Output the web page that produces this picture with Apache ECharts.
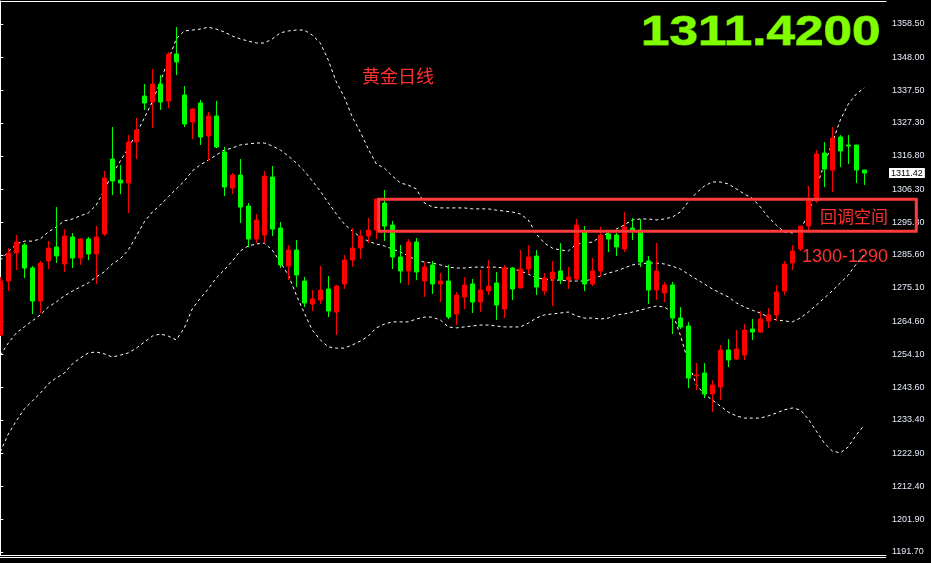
<!DOCTYPE html>
<html><head><meta charset="utf-8">
<script src="https://cdn.jsdelivr.net/npm/echarts@6/dist/echarts.min.js"></script>
<style>html,body{margin:0;padding:0;background:#000;overflow:hidden}#c{width:931px;height:563px}</style>
</head><body><div id="c"></div>
<script>
// OHLC (daily gold candles, oldest first)
const opens=[1260.25,1277.31,1286.15,1288.68,1281.41,1270.99,1283.63,1288.05,1282.68,1291.21,1284.57,1290.57,1285.84,1292.15,1315.85,1309.21,1308.27,1321.22,1335.75,1333.86,1339.54,1334.17,1349.02,1336.07,1327.54,1333.54,1323.11,1329.43,1318.06,1306.69,1310.79,1301.00,1290.57,1291.84,1310.16,1294.05,1282.05,1287.10,1277.31,1270.04,1271.30,1274.78,1267.51,1276.36,1283.94,1287.73,1291.52,1293.42,1301.95,1295.00,1284.89,1280.47,1289.63,1277.31,1282.36,1276.36,1277.31,1266.88,1272.25,1276.36,1270.67,1274.15,1276.68,1268.46,1281.41,1275.10,1281.10,1285.20,1274.15,1277.94,1280.47,1277.62,1277.94,1292.79,1276.36,1280.47,1292.15,1291.84,1287.42,1294.05,1293.42,1283.63,1274.46,1273.52,1276.04,1265.62,1263.09,1247.29,1248.24,1241.61,1243.82,1255.51,1252.66,1253.93,1262.14,1261.19,1264.67,1266.57,1274.15,1282.99,1287.42,1294.68,1302.58,1317.74,1312.37,1322.80,1320.27,1320.27,1312.37];
const closes=[1277.31,1286.15,1289.63,1281.41,1270.99,1282.99,1287.73,1285.20,1291.52,1284.57,1290.57,1285.84,1291.21,1309.85,1308.90,1308.27,1321.22,1325.01,1333.54,1339.54,1333.86,1349.02,1346.49,1326.91,1331.65,1322.80,1329.43,1319.64,1307.00,1310.79,1300.68,1290.57,1296.58,1310.48,1293.73,1282.36,1287.10,1279.20,1270.36,1271.62,1274.46,1267.83,1275.73,1283.94,1287.73,1291.52,1293.42,1303.21,1294.68,1284.89,1280.47,1289.63,1280.15,1281.73,1276.36,1277.31,1265.93,1272.88,1276.04,1270.67,1274.46,1275.73,1269.72,1281.41,1274.78,1281.10,1284.89,1275.41,1278.25,1280.15,1277.62,1278.57,1295.00,1276.36,1280.47,1291.84,1290.57,1288.05,1294.37,1293.10,1283.31,1274.46,1280.47,1276.04,1265.62,1262.77,1246.66,1247.61,1241.61,1244.45,1255.51,1252.35,1255.82,1261.83,1261.19,1265.30,1266.57,1273.83,1282.68,1286.78,1294.68,1302.58,1317.43,1312.69,1322.48,1318.38,1319.96,1312.37,1311.42];
const lows=[1259.93,1274.15,1280.78,1278.25,1266.88,1267.20,1281.10,1282.99,1280.15,1281.41,1282.36,1283.94,1276.36,1291.52,1304.48,1304.79,1298.79,1315.85,1331.33,1325.64,1331.33,1331.96,1342.39,1325.96,1322.17,1320.27,1315.22,1319.32,1304.16,1304.79,1295.63,1288.05,1289.31,1289.31,1291.52,1281.41,1277.62,1275.41,1269.09,1267.83,1270.04,1265.93,1260.25,1274.78,1281.73,1284.26,1289.31,1290.57,1289.94,1281.10,1276.68,1276.04,1277.62,1272.25,1273.20,1270.67,1265.30,1263.41,1268.46,1267.20,1267.51,1272.88,1264.99,1265.62,1271.30,1275.10,1279.52,1272.88,1272.88,1269.41,1276.36,1274.78,1277.62,1274.15,1275.73,1278.57,1286.47,1285.20,1286.47,1290.26,1281.73,1270.04,1271.30,1270.67,1260.56,1262.14,1243.50,1242.87,1240.34,1235.92,1239.71,1250.14,1252.35,1252.35,1258.67,1260.88,1262.46,1264.67,1272.88,1280.78,1286.78,1293.42,1301.95,1307.00,1305.42,1313.32,1314.27,1308.27,1307.63];
const highs=[1278.57,1287.73,1291.84,1289.31,1282.05,1283.63,1289.94,1300.68,1293.73,1292.47,1290.89,1291.21,1294.68,1312.06,1325.96,1313.95,1323.43,1328.80,1339.54,1344.28,1342.39,1349.65,1357.55,1338.91,1331.96,1334.49,1330.70,1334.17,1319.64,1311.43,1315.85,1301.95,1298.47,1312.06,1313.64,1295.95,1288.68,1290.26,1278.57,1274.46,1282.05,1278.89,1276.04,1285.52,1294.05,1293.42,1297.21,1303.21,1306.06,1296.26,1288.68,1290.57,1290.89,1283.31,1283.63,1279.83,1282.36,1273.83,1278.57,1277.94,1280.78,1283.94,1280.15,1282.36,1281.73,1287.10,1288.68,1287.10,1279.83,1283.63,1289.31,1281.73,1296.89,1294.68,1284.57,1294.37,1292.79,1292.47,1299.10,1297.21,1296.89,1285.20,1289.31,1276.99,1276.99,1269.09,1264.35,1251.40,1251.40,1246.03,1257.09,1258.98,1261.83,1263.72,1265.30,1267.83,1268.78,1276.04,1283.63,1288.68,1294.68,1307.32,1318.69,1321.22,1325.96,1323.43,1323.43,1320.27,1312.37];
// Bollinger bands
const upperBand=[1283.9,1286.5,1289.0,1289.9,1289.9,1290.6,1292.8,1294.4,1296.3,1296.9,1297.9,1298.8,1301.3,1306.1,1311.1,1315.2,1319.3,1323.8,1328.8,1333.9,1340.2,1347.1,1353.8,1356.3,1356.6,1356.9,1357.5,1356.9,1356.0,1354.7,1353.8,1353.1,1352.5,1352.5,1353.8,1355.7,1356.3,1356.6,1356.6,1355.0,1352.5,1347.1,1340.2,1335.4,1329.1,1324.4,1319.0,1314.3,1313.0,1310.5,1308.3,1307.6,1306.4,1302.0,1300.7,1300.4,1300.4,1300.4,1300.4,1300.1,1300.1,1300.1,1299.7,1299.4,1299.1,1298.5,1296.6,1292.2,1289.3,1287.7,1287.1,1286.8,1289.0,1289.3,1289.6,1291.2,1292.5,1293.7,1295.0,1296.6,1296.9,1296.9,1296.6,1296.9,1297.5,1299.1,1302.3,1305.1,1307.3,1308.6,1308.6,1308.0,1306.4,1304.8,1303.5,1300.7,1297.5,1295.0,1292.8,1292.5,1293.4,1298.5,1306.7,1314.3,1320.9,1328.2,1333.2,1336.4,1338.3];
const middleBand=[1253.9,1257.7,1260.9,1262.8,1264.7,1266.6,1269.1,1270.7,1272.6,1274.1,1275.4,1276.7,1278.6,1280.2,1282.7,1284.3,1287.1,1291.5,1296.0,1299.1,1301.3,1303.9,1306.4,1308.9,1312.1,1314.0,1315.5,1317.1,1318.7,1319.3,1320.3,1320.6,1320.9,1320.9,1320.0,1318.7,1316.8,1314.6,1312.1,1308.9,1305.7,1302.0,1298.5,1295.3,1293.1,1291.2,1289.9,1289.0,1288.4,1287.4,1286.5,1285.2,1283.9,1283.3,1283.0,1282.4,1281.7,1281.4,1281.4,1281.7,1281.7,1281.7,1281.7,1281.4,1281.1,1280.5,1279.5,1278.3,1277.9,1277.6,1277.6,1277.3,1277.3,1277.3,1277.9,1278.9,1279.8,1280.5,1281.4,1282.4,1282.7,1283.0,1283.0,1282.7,1282.0,1281.1,1279.5,1277.9,1276.4,1274.8,1273.5,1272.3,1270.4,1269.1,1268.1,1267.2,1265.9,1265.0,1264.7,1264.4,1265.6,1267.5,1269.7,1271.9,1274.2,1276.7,1279.2,1282.7,1285.8];
const lowerBand=[1223.3,1229.0,1233.1,1236.9,1239.4,1241.9,1244.8,1246.7,1248.2,1251.1,1253.0,1254.6,1254.9,1254.3,1253.3,1253.9,1254.6,1256.1,1258.0,1259.9,1260.6,1259.9,1258.7,1262.5,1268.5,1271.9,1274.8,1278.3,1280.8,1283.6,1286.8,1288.4,1289.0,1289.3,1287.1,1283.3,1279.2,1272.9,1267.2,1261.8,1258.7,1256.5,1256.1,1256.1,1257.1,1258.3,1259.9,1262.5,1263.7,1264.4,1264.4,1264.4,1265.3,1265.9,1265.9,1265.0,1262.8,1262.5,1262.8,1263.1,1263.4,1263.4,1263.1,1262.8,1262.8,1262.8,1264.0,1265.6,1266.6,1266.9,1267.2,1267.5,1266.3,1265.6,1265.6,1265.3,1265.6,1266.6,1266.9,1267.5,1268.1,1268.8,1269.4,1269.1,1267.5,1260.2,1251.7,1244.5,1241.6,1239.7,1237.8,1235.9,1234.7,1234.0,1234.0,1234.0,1234.7,1235.6,1236.6,1237.2,1236.6,1233.7,1229.9,1226.1,1223.6,1223.0,1224.9,1228.7,1231.8];
// price-axis tick labels
const yTickValues=[1191.70,1201.90,1212.40,1222.90,1233.40,1243.60,1254.10,1264.60,1275.10,1285.60,1295.80,1306.30,1316.80,1327.30,1337.50,1348.00,1358.50];
const lastPrice=1311.42;
// annotated pull-back zone (price band, candle index span)
const zonePrices=[1303.1,1293.0];
const zoneIndexSpan=[47.3,114.5];

const chart=echarts.init(document.getElementById('c'),null,{renderer:'canvas'});
const candleData=opens.map((o,i)=>[i,o,closes[i],lows[i],highs[i]]);
const bandLine=(arr)=>({type:'line',data:arr.map((v,i)=>[i,v]),showSymbol:false,symbol:'none',silent:true,
  lineStyle:{color:'#ffffff',width:1,type:[3,3]},z:3});
const frameX=(pos)=>({type:'value',position:pos,min:-0.0375,max:110.7125,show:true,
  axisLine:{show:true,onZero:false,lineStyle:{color:'#ffffff',width:1}},axisTick:{show:false},axisLabel:{show:false},splitLine:{show:false}});

chart.setOption({
  backgroundColor:'#000000',
  animation:false,
  grid:{left:0,right:45,top:1,bottom:8,show:false,containLabel:false,outerBoundsMode:'none'},
  xAxis:[frameX('bottom'),frameX('top')],
  yAxis:{type:'value',position:'right',min:1190.75,max:1365.77,scale:true,
    splitLine:{show:false},
    axisLine:{show:true,lineStyle:{color:'#ffffff',width:1}},
    axisTick:{show:true,customValues:yTickValues,length:3,inside:false,lineStyle:{color:'#ffffff'}},
    axisLabel:{show:true,customValues:yTickValues,formatter:v=>Number(v).toFixed(2),color:'#e4ebf8',fontSize:9,fontFamily:'Liberation Sans',margin:6}
  },
  series:[
    bandLine(upperBand),bandLine(middleBand),bandLine(lowerBand),
    {type:'candlestick',data:candleData,barWidth:4,z:4,
      itemStyle:{color:'#ff0000',color0:'#00ff00',borderColor:'#ff0000',borderColor0:'#00ff00',borderWidth:1},
      markLine:{silent:true,symbol:['none','none'],data:[{yAxis:lastPrice}],
        lineStyle:{color:'rgba(0,0,0,0)',width:1,type:'solid'},
        label:{show:true,position:'end',distance:3,formatter:lastPrice.toFixed(2),color:'#000000',backgroundColor:'#ffffff',fontSize:9,fontFamily:'Liberation Sans',padding:[1,2,0,2]}}
    }
  ]
});

const p1=chart.convertToPixel({gridIndex:0},[zoneIndexSpan[0],zonePrices[0]]);
const p2=chart.convertToPixel({gridIndex:0},[zoneIndexSpan[1],zonePrices[1]]);
chart.setOption({graphic:[
  {type:'rect',shape:{x:p1[0],y:p1[1],width:p2[0]-p1[0],height:p2[1]-p1[1]},style:{fill:'none',stroke:'#ff3b3b',lineWidth:3},z:10,silent:true},
  {type:'text',x:641,y:12,scaleX:1.22,style:{text:lastPrice.toFixed(4),fill:'#80ff00',stroke:'#5fc000',lineWidth:1,fontSize:42,fontWeight:'bold',fontFamily:'Liberation Sans'},z:10},
  {type:'text',x:362,y:67,style:{text:'黄金日线',fill:'#ff3030',fontSize:18,fontFamily:'Noto Sans CJK SC'},z:10},
  {type:'text',x:820,y:208,style:{text:'回调空间',fill:'#ff3030',fontSize:17,fontFamily:'Noto Sans CJK SC'},z:10},
  {type:'text',x:802,y:248,style:{text:'1300-1290',fill:'#ff3030',fontSize:18,fontFamily:'Liberation Sans'},z:10},
  {type:'line',shape:{x1:0,y1:557.5,x2:886,y2:557.5},style:{stroke:'#ffffff',lineWidth:1},z:10,silent:true}
]});
</script></body></html>
